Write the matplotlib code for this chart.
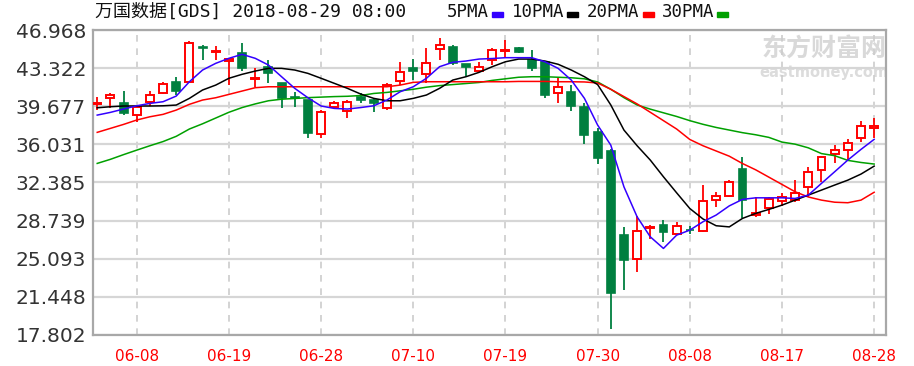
import matplotlib
matplotlib.use("Agg")
import matplotlib.pyplot as plt
from matplotlib.patches import Rectangle

# trading days shown (MM-DD)
dates = ["06-05", "06-06", "06-07", "06-08", "06-11", "06-12", "06-13", "06-14", "06-15", "06-18",
         "06-19", "06-20", "06-21", "06-22", "06-25", "06-26", "06-27", "06-28", "06-29", "07-02",
         "07-03", "07-05", "07-06", "07-09", "07-10", "07-11", "07-12", "07-13", "07-16", "07-17",
         "07-18", "07-19", "07-20", "07-23", "07-24", "07-25", "07-26", "07-27", "07-30", "07-31",
         "08-01", "08-02", "08-03", "08-06", "08-07", "08-08", "08-09", "08-10", "08-13", "08-14",
         "08-15", "08-16", "08-17", "08-20", "08-21", "08-22", "08-23", "08-24", "08-27", "08-28"]
tick_dates = ["06-08", "06-19", "06-28", "07-10", "07-19", "07-30", "08-08", "08-17", "08-28"]

opens = [39.90, 40.48, 40.01, 38.83, 40.11, 40.91, 42.02, 42.02, 45.37, 44.85,
         44.05, 44.74, 42.30, 43.46, 41.87, 40.60, 40.27, 36.99, 39.63, 39.22,
         40.59, 40.27, 39.53, 42.09, 43.30, 42.73, 45.15, 45.37, 43.69, 43.04,
         44.10, 45.00, 45.22, 44.10, 43.93, 40.91, 41.06, 39.63, 37.18, 35.40,
         27.35, 25.03, 28.00, 28.31, 27.45, 27.88, 27.73, 30.70, 31.08, 33.63,
         29.30, 29.91, 30.63, 30.70, 31.91, 33.57, 35.10, 35.48, 36.60, 37.62]
highs = [40.59, 40.91, 41.13, 39.70, 41.13, 42.02, 42.50, 45.92, 45.53, 45.47,
         44.30, 45.69, 43.30, 44.10, 41.90, 41.06, 40.30, 39.31, 40.17, 40.27,
         40.91, 40.43, 41.87, 43.88, 44.19, 45.22, 46.23, 45.53, 43.75, 43.88,
         45.22, 46.01, 45.37, 45.05, 43.95, 42.35, 41.70, 39.95, 37.56, 35.60,
         28.14, 29.17, 28.31, 28.79, 28.63, 28.21, 32.13, 31.49, 32.61, 34.78,
         31.00, 31.02, 31.40, 32.61, 33.83, 34.91, 35.96, 36.51, 38.29, 38.52]
lows = [39.31, 39.48, 38.83, 38.14, 39.72, 40.88, 40.75, 41.98, 44.10, 44.10,
        41.70, 43.04, 41.55, 41.87, 39.53, 39.65, 36.66, 36.60, 39.47, 38.58,
        39.95, 39.09, 39.31, 41.70, 42.18, 41.87, 44.10, 43.62, 42.60, 42.92,
        43.62, 44.32, 44.74, 43.04, 40.43, 39.95, 39.22, 36.03, 34.12, 18.42,
        22.09, 23.84, 26.94, 26.71, 27.35, 27.45, 27.67, 30.06, 31.02, 28.95,
        29.10, 29.36, 30.13, 30.54, 31.02, 32.45, 34.21, 34.53, 36.28, 36.60]
closes = [39.98, 40.74, 39.05, 39.63, 40.75, 41.77, 41.13, 45.69, 45.22, 44.92,
          44.20, 43.30, 42.40, 42.82, 40.43, 40.50, 37.08, 39.09, 39.95, 40.11,
          40.27, 39.95, 41.70, 42.98, 43.04, 43.78, 45.53, 43.78, 43.46, 43.46,
          45.05, 45.10, 44.83, 43.30, 40.75, 41.54, 39.72, 36.92, 34.75, 21.80,
          24.96, 27.76, 28.15, 27.67, 28.21, 27.80, 30.60, 31.08, 32.45, 30.70,
          29.45, 30.77, 31.02, 31.40, 33.41, 34.79, 35.48, 36.18, 37.78, 37.80]

ma5 = [38.83, 39.09, 39.41, 39.72, 39.95, 40.11, 40.65, 42.02, 43.14, 43.78,
       44.26, 44.64, 44.26, 43.62, 42.50, 41.39, 40.49, 39.70, 39.47, 39.41,
       39.55, 39.72, 40.27, 41.06, 41.54, 42.35, 43.46, 43.88, 44.00, 44.19,
       44.24, 44.32, 44.32, 44.32, 43.93, 43.30, 42.18, 40.43, 37.88, 35.96,
       31.97, 29.10, 27.19, 26.08, 27.35, 27.83, 28.63, 29.27, 30.15, 30.77,
       30.92, 30.92, 30.92, 30.86, 31.18, 32.30, 33.41, 34.53, 35.55, 36.51]
ma10 = [39.53, 39.63, 39.70, 39.70, 39.70, 39.72, 39.79, 40.43, 41.23, 41.70,
        42.35, 42.73, 43.04, 43.30, 43.30, 43.14, 42.82, 42.35, 41.87, 41.39,
        40.85, 40.43, 40.20, 40.20, 40.43, 40.75, 41.39, 42.18, 42.50, 42.92,
        43.46, 43.93, 44.19, 44.19, 44.00, 43.69, 43.14, 42.50, 41.75, 39.80,
        37.40, 35.90, 34.53, 32.93, 31.40, 29.90, 28.90, 28.25, 28.14, 28.95,
        29.43, 29.81, 30.22, 30.70, 31.18, 31.66, 32.14, 32.61, 33.19, 33.95]
ma20 = [37.18, 37.56, 37.94, 38.36, 38.67, 38.90, 39.31, 39.86, 40.27, 40.49,
        40.81, 41.13, 41.45, 41.54, 41.54, 41.54, 41.54, 41.54, 41.54, 41.54,
        41.54, 41.54, 41.54, 41.70, 41.96, 42.02, 42.02, 42.02, 42.02, 42.02,
        42.02, 42.02, 42.05, 42.05, 42.05, 42.02, 42.02, 42.00, 41.90, 41.30,
        40.60, 39.90, 39.10, 38.30, 37.50, 36.50, 35.90, 35.40, 34.90, 34.20,
        33.60, 32.90, 32.20, 31.50, 31.00, 30.70, 30.50, 30.45, 30.70, 31.45]
ma30 = [34.21, 34.60, 35.05, 35.48, 35.90, 36.30, 36.80, 37.50, 38.00, 38.55,
        39.10, 39.55, 39.90, 40.20, 40.35, 40.42, 40.50, 40.55, 40.60, 40.63,
        40.70, 40.90, 41.00, 41.15, 41.30, 41.50, 41.65, 41.75, 41.85, 41.95,
        42.15, 42.30, 42.45, 42.50, 42.50, 42.45, 42.40, 42.30, 42.00, 41.30,
        40.50, 39.80, 39.40, 39.05, 38.70, 38.30, 37.95, 37.65, 37.40, 37.15,
        36.95, 36.70, 36.25, 36.05, 35.70, 35.15, 34.95, 34.50, 34.30, 34.15]

yticks = [17.802, 21.448, 25.093, 28.739, 32.385, 36.031, 39.677, 43.322, 46.968]

UP = "#ff0000"
DOWN = "#007f3f"
ma_colors = ["#3300ff", "#000000", "#ff0000", "#00a000"]
ma_names = ["5PMA", "10PMA", "20PMA", "30PMA"]

fig = plt.figure(figsize=(9.14, 3.66), dpi=100)
ax = fig.add_axes([93 / 914, 1 - 335 / 366, 793 / 914, 305 / 366])

x = list(range(len(dates)))
w = 0.6
for i in x:
    o, h, l, c = opens[i], highs[i], lows[i], closes[i]
    lo, hi = min(o, c), max(o, c)
    if c >= o:
        ax.bar(i, max(hi - lo, 0.02), bottom=lo, width=w, facecolor="white",
               edgecolor=UP, linewidth=1.4, zorder=3)
        col = UP
    else:
        ax.bar(i, max(hi - lo, 0.02), bottom=lo, width=w, facecolor=DOWN,
               edgecolor=DOWN, linewidth=1.2, zorder=3)
        col = DOWN
    ax.vlines(i, l, lo, color=col, lw=1.3, zorder=2.9)
    ax.vlines(i, hi, h, color=col, lw=1.3, zorder=2.9)

for vals, col in zip([ma30, ma20, ma10, ma5], ma_colors[::-1]):
    ax.plot(x, vals, color=col, lw=1.1, zorder=4)

ax.set_xlim(-0.32, 59.9)
ax.set_ylim(yticks[0], yticks[-1])
ax.set_yticks(yticks)
ax.set_yticklabels([f"{v:.3f}" for v in yticks])
ax.set_xticks([dates.index(d) for d in tick_dates])
ax.set_xticklabels(tick_dates, family=["Liberation Sans Narrow", "DejaVu Sans"])
ax.tick_params(axis="y", length=0, pad=5, labelsize=14.5, labelcolor="#333333")
ax.tick_params(axis="x", length=0, pad=10, labelsize=11, labelcolor="#ff0000")
ax.grid(axis="y", color="#d6d6d6", lw=1.6, ls="-", zorder=0)
ax.grid(axis="x", color="#cccccc", lw=1.2, ls=(0, (4, 4)), zorder=0)
for s in ax.spines.values():
    s.set_color("#a8a8a8")
    s.set_linewidth(1.6)

# watermark
ax.text(0.922, 0.94, "东方财富网", transform=ax.transAxes, ha="center", va="center",
        fontsize=18, fontweight="bold", color="#d9d9d9", family=["Noto Sans CJK SC"], zorder=1)
ax.text(0.922, 0.86, "eastmoney.com", transform=ax.transAxes, ha="center", va="center",
        fontsize=10.5, fontweight="bold", color="#dcdcdc", zorder=1)

mono = ["DejaVu Sans Mono", "Noto Sans CJK SC"]
fig.text(95 / 914, 1 - 12 / 366, "万国数据[GDS] 2018-08-29 08:00", family=mono,
         fontsize=13, va="center", ha="left", color="#111111")
leg_x = [447, 512, 587, 662]
bar_x = [492, 567, 643, 717]
for name, col, tx, bx in zip(ma_names, ma_colors, leg_x, bar_x):
    fig.text(tx / 914, 1 - 12 / 366, name, family=mono, fontsize=12.5,
             va="center", ha="left", color="#111111")
    fig.patches.append(Rectangle((bx / 914, 1 - 17 / 366), 11 / 914, 5 / 366,
                                 transform=fig.transFigure, color=col))

fig.savefig("out.png", dpi=100)
